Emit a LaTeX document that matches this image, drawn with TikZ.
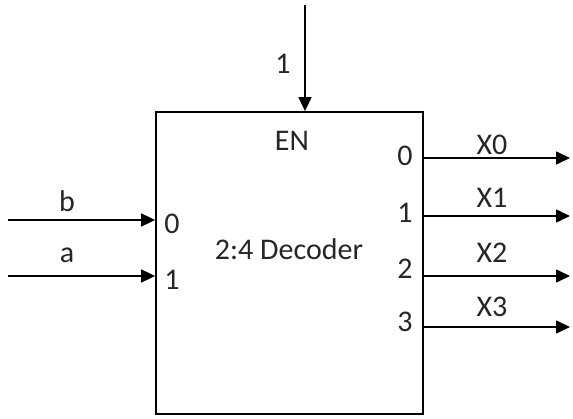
\documentclass[tikz,border=0pt]{standalone}
\usepackage{fontspec}
\setmainfont{Carlito}
\usetikzlibrary{arrows.meta}
\begin{document}
\begin{tikzpicture}[x=1pt,y=-1pt,
  lbl/.style={anchor=base,inner sep=0pt,font=\fontsize{30}{34}\selectfont,text=black!85},
  arr/.style={line width=1.6pt,-{Triangle[length=14pt,width=13pt]}},
  boxst/.style={draw,line width=1.8pt,minimum width=267pt,minimum height=302pt,inner sep=0pt}]
\useasboundingbox (0,0) rectangle (573,419);
\node[boxst] (dec) at (289.5,263) {};
% enable input
\coordinate (ein) at (305,5);
\draw[arr] (ein) -- (ein |- dec.north);
\node[lbl] (one) at (283,74) {1};
\node[lbl] (en) at (292,151) {EN};
\node[lbl] (name) at (289,260) {2:4 Decoder};
% inputs
\coordinate (bin) at (8,220);
\coordinate (ain) at (8,276);
\draw[arr] (bin) -- (bin -| dec.west);
\draw[arr] (ain) -- (ain -| dec.west);
\node[lbl] (lb) at (67,212) {b};
\node[lbl] (la) at (67,263) {a};
\node[lbl] (i0) at (172,234) {0};
\node[lbl] (i1) at (172,290) {1};
% outputs
\coordinate (o0) at (570,158);
\coordinate (o1) at (570,216);
\coordinate (o2) at (570,276);
\coordinate (o3) at (570,327);
\draw[arr] (o0 -| dec.east) -- (o0);
\draw[arr] (o1 -| dec.east) -- (o1);
\draw[arr] (o2 -| dec.east) -- (o2);
\draw[arr] (o3 -| dec.east) -- (o3);
\node[lbl] (p0) at (405,166) {0};
\node[lbl] (p1) at (405,223) {1};
\node[lbl] (p2) at (405,279) {2};
\node[lbl] (p3) at (405,332) {3};
\node[lbl] (x0) at (492,155) {X0};
\node[lbl] (x1) at (492,208) {X1};
\node[lbl] (x2) at (492,263) {X2};
\node[lbl] (x3) at (492,317) {X3};
\end{tikzpicture}
\end{document}
